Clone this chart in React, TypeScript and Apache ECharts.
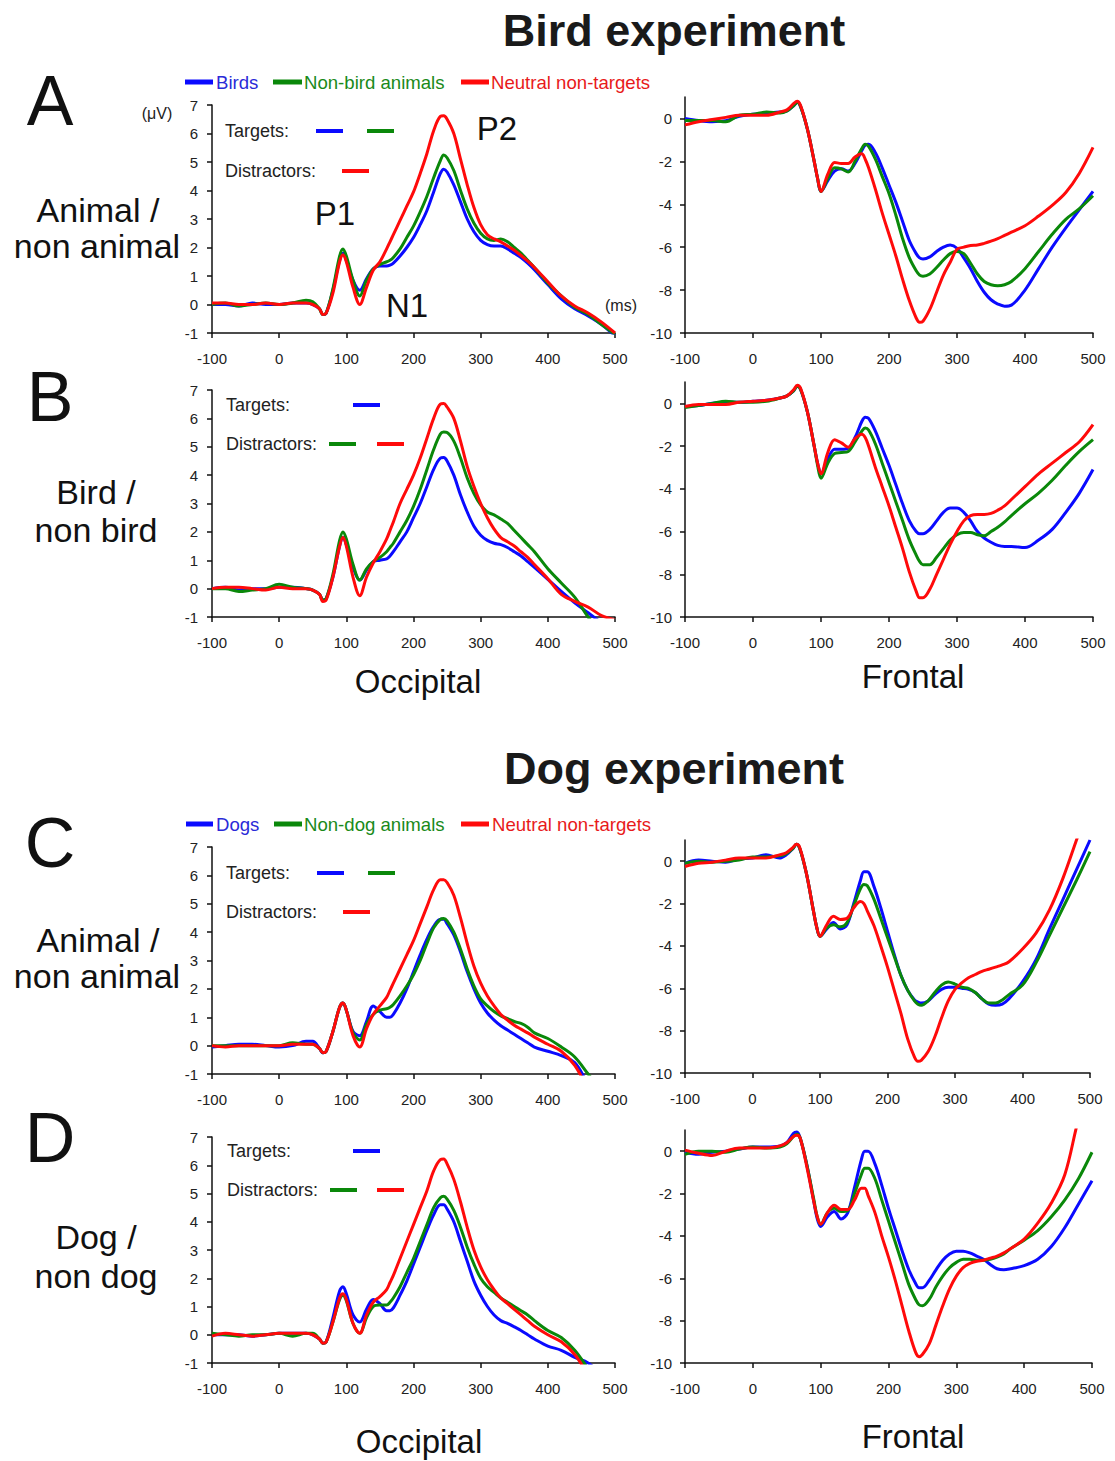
import React, { useEffect, useRef } from "react";
import * as echarts from "echarts";

// time points (ms)
const T = [
  -100, -80, -60, -40, -20, 0, 20, 40,
  50, 60, 65, 70, 80, 90, 95, 100,
  110, 120, 130, 140, 150, 160, 165, 170,
  180, 190, 200, 210, 220, 230, 240, 245,
  250, 260, 270, 280, 290, 300, 310, 320,
  330, 340, 350, 360, 370, 380, 400, 420,
  440, 460, 480, 500,
];

// ---- Bird experiment, Animal / non animal ----
const blueA_L = [
  0, 0, -0.05, 0.05, 0, 0, 0.05, 0.05,
  0, -0.15, -0.35, -0.3, 0.5, 1.55, 1.8, 1.55,
  0.85, 0.5, 0.9, 1.25, 1.35, 1.35, 1.38, 1.45,
  1.7, 2.0, 2.35, 2.8, 3.3, 3.95, 4.6, 4.75,
  4.65, 4.2, 3.6, 3.0, 2.55, 2.25, 2.1, 2.05,
  2.05, 1.95, 1.8, 1.65, 1.45, 1.22, 0.7, 0.2,
  -0.15, -0.4, -0.7, -1.1,
];
const greenA_L = [
  0, 0.05, -0.05, 0, 0.05, 0, 0.05, 0.15,
  0.1, -0.15, -0.35, -0.3, 0.55, 1.7, 1.95, 1.7,
  0.85, 0.3, 0.85, 1.25, 1.4, 1.5, 1.55, 1.65,
  1.95, 2.35, 2.75, 3.25, 3.8, 4.45, 5.05, 5.25,
  5.15, 4.7, 4.0, 3.35, 2.85, 2.5, 2.3, 2.25,
  2.3, 2.2, 2.0, 1.8, 1.55, 1.3, 0.75, 0.3,
  -0.1, -0.35, -0.7, -1.05,
];
const redA_L = [
  0.05, 0.05, 0, 0, 0.05, 0, 0.05, 0.05,
  0, -0.15, -0.35, -0.3, 0.4, 1.5, 1.75, 1.5,
  0.6, 0.0, 0.6, 1.2, 1.5, 1.95, 2.2, 2.45,
  2.95, 3.45, 3.95, 4.6, 5.3, 6.1, 6.6, 6.62,
  6.5, 6.0, 5.1, 4.2, 3.4, 2.8, 2.45, 2.3,
  2.2, 2.05, 1.9, 1.72, 1.52, 1.3, 0.8, 0.3,
  -0.05, -0.3, -0.62, -1.0,
];
const blueA_R = [
  0, -0.1, -0.15, -0.1, 0.1, 0.2, 0.25, 0.3,
  0.35, 0.6, 0.75, 0.55, -0.5, -2.0, -2.8, -3.4,
  -2.9, -2.45, -2.35, -2.45, -2.1, -1.5, -1.25, -1.2,
  -1.6, -2.3, -3.1, -3.9, -4.8, -5.7, -6.3, -6.5,
  -6.55, -6.45, -6.2, -6.0, -5.9, -6.05, -6.5, -7.0,
  -7.6, -8.1, -8.45, -8.65, -8.75, -8.7, -8.0, -7.0,
  -6.0, -5.1, -4.25, -3.4,
];
const greenA_R = [
  -0.1, -0.1, -0.1, -0.15, 0.15, 0.2, 0.3, 0.25,
  0.35, 0.6, 0.75, 0.55, -0.5, -2.0, -2.8, -3.4,
  -2.8, -2.3, -2.35, -2.5, -2.0, -1.4, -1.2, -1.3,
  -1.9, -2.7, -3.5, -4.5, -5.6, -6.5, -7.1, -7.3,
  -7.35, -7.25, -6.95, -6.6, -6.3, -6.2, -6.3, -6.75,
  -7.25, -7.6, -7.75, -7.8, -7.75, -7.6, -7.0, -6.2,
  -5.4, -4.7, -4.2, -3.6,
];
const redA_R = [
  -0.3, -0.15, -0.05, 0.05, 0.15, 0.15, 0.15, 0.3,
  0.4, 0.7, 0.8, 0.6, -0.5, -2.0, -2.8, -3.4,
  -2.6, -2.05, -2.1, -2.1, -1.8, -1.65, -1.9, -2.3,
  -3.3, -4.4, -5.4, -6.4, -7.5, -8.5, -9.3, -9.5,
  -9.45, -8.9, -8.1, -7.3, -6.7, -6.1, -6.0, -5.92,
  -5.9, -5.82, -5.72, -5.6, -5.45, -5.3, -5.0, -4.55,
  -4.05, -3.45, -2.55, -1.35,
];

// ---- Bird experiment, Bird / non bird ----
const blueB_L = [
  0, 0.05, -0.05, 0, 0, 0.05, 0.05, 0,
  -0.05, -0.2, -0.4, -0.35, 0.4, 1.5, 1.8, 1.55,
  0.75, 0.3, 0.65, 0.95, 1.0, 1.05, 1.15, 1.3,
  1.65, 2.0, 2.5, 3.0, 3.6, 4.2, 4.6, 4.62,
  4.5, 4.0, 3.3, 2.7, 2.2, 1.88, 1.7, 1.6,
  1.55, 1.45, 1.3, 1.15, 0.95, 0.75, 0.33, -0.1,
  -0.5, -0.85, -1.2, -1.5,
];
const greenB_L = [
  0, 0, -0.1, -0.05, 0, 0.15, 0.05, 0,
  -0.05, -0.2, -0.4, -0.35, 0.5, 1.7, 2.0, 1.75,
  0.85, 0.3, 0.7, 0.95, 1.1, 1.3, 1.45, 1.6,
  2.0, 2.4, 2.9, 3.5, 4.2, 4.9, 5.45, 5.52,
  5.5, 5.2, 4.6, 3.9, 3.35, 2.95, 2.7, 2.6,
  2.45, 2.3, 2.05, 1.8, 1.55, 1.3, 0.7, 0.2,
  -0.3, -1.0, -1.6, -2.2,
];
const redB_L = [
  0, 0.05, 0.05, 0, -0.05, 0.05, 0, 0,
  -0.05, -0.2, -0.45, -0.4, 0.4, 1.5, 1.8, 1.5,
  0.4, -0.25, 0.4, 0.9, 1.3, 1.75, 2.05, 2.35,
  3.0, 3.5, 4.0, 4.6, 5.3, 6.0, 6.5, 6.52,
  6.4, 6.0, 5.2, 4.3, 3.6, 3.0, 2.5, 2.1,
  1.8, 1.65, 1.5, 1.3, 1.1, 0.85, 0.35, -0.2,
  -0.45, -0.65, -0.95, -1.1,
];
const blueB_R = [
  -0.15, -0.1, 0, 0.05, 0.05, 0.1, 0.15, 0.25,
  0.35, 0.6, 0.8, 0.65, -0.4, -2.0, -2.8, -3.3,
  -2.6, -2.15, -2.15, -2.1, -1.6, -0.85, -0.65, -0.7,
  -1.3, -2.1, -2.9, -3.8, -4.7, -5.5, -6.0, -6.1,
  -6.1, -5.9, -5.5, -5.1, -4.9, -4.9, -5.1, -5.5,
  -6.0, -6.3, -6.5, -6.65, -6.7, -6.7, -6.75, -6.4,
  -5.9, -5.1, -4.2, -3.1,
];
const greenB_R = [
  -0.2, -0.1, 0, 0.1, 0.05, 0.05, 0.1, 0.25,
  0.35, 0.6, 0.8, 0.65, -0.4, -2.0, -2.9, -3.5,
  -2.8, -2.35, -2.3, -2.25, -1.8, -1.3, -1.15, -1.25,
  -1.9, -2.8, -3.7, -4.6, -5.5, -6.4, -7.1, -7.4,
  -7.55, -7.55, -7.2, -6.8, -6.4, -6.15, -6.05, -6.05,
  -6.15, -6.2, -6.0, -5.8, -5.55, -5.25, -4.7, -4.2,
  -3.6, -2.9, -2.25, -1.7,
];
const redB_R = [
  -0.15, -0.05, -0.05, -0.05, 0.05, 0.1, 0.15, 0.25,
  0.35, 0.65, 0.85, 0.7, -0.4, -2.0, -2.8, -3.3,
  -2.3, -1.7, -1.85, -2.05, -1.65, -1.45, -1.6, -2.0,
  -3.0, -3.9, -4.8, -5.8, -6.8, -7.9, -8.8, -9.1,
  -9.1, -8.7, -8.0, -7.3, -6.6, -6.0, -5.5, -5.25,
  -5.2, -5.2, -5.15, -5.0, -4.8, -4.5, -3.9, -3.3,
  -2.8, -2.3, -1.8, -1.0,
];

// ---- Dog experiment, Animal / non animal ----
const blueC_L = [
  -0.05, 0, 0.05, 0.05, 0, -0.05, 0, 0.15,
  0.15, -0.1, -0.25, -0.2, 0.5, 1.35, 1.5, 1.25,
  0.5, 0.35, 0.85, 1.4, 1.2, 1.0, 1.0, 1.1,
  1.5, 2.0, 2.6, 3.2, 3.75, 4.2, 4.45, 4.45,
  4.3, 3.9, 3.3, 2.6, 2.0, 1.5, 1.15, 0.9,
  0.7, 0.55, 0.4, 0.25, 0.1, -0.05, -0.2, -0.35,
  -0.6, -1.35, -2.0, -2.6,
];
const greenC_L = [
  0, 0, 0, 0, 0, 0, 0.1, 0.05,
  0.05, -0.1, -0.25, -0.2, 0.5, 1.35, 1.5, 1.25,
  0.45, 0.2, 0.75, 1.1, 1.25, 1.3, 1.35, 1.45,
  1.75, 2.1, 2.5, 3.0, 3.6, 4.15, 4.45, 4.48,
  4.4, 4.0, 3.4, 2.7, 2.1, 1.65, 1.4, 1.2,
  1.05, 0.95, 0.85, 0.78, 0.65, 0.45, 0.25, -0.05,
  -0.4, -1.0, -1.6, -2.2,
];
const redC_L = [
  0, -0.05, 0, 0, 0, 0, 0.05, 0.05,
  0.05, -0.1, -0.25, -0.2, 0.5, 1.35, 1.5, 1.25,
  0.35, -0.05, 0.6, 1.1, 1.4, 1.7, 1.95, 2.2,
  2.7, 3.2, 3.7, 4.3, 4.9, 5.5, 5.85, 5.85,
  5.75, 5.3, 4.5, 3.6, 2.8, 2.2, 1.75, 1.4,
  1.1, 0.9, 0.72, 0.58, 0.45, 0.3, 0.05, -0.2,
  -0.7, -1.5, -2.1, -2.7,
];
const blueC_R = [
  -0.1, 0.05, 0, -0.05, 0.1, 0.15, 0.3, 0.15,
  0.3, 0.6, 0.8, 0.6, -0.6, -2.3, -3.1, -3.55,
  -3.2, -2.9, -3.2, -3.0, -2.0, -0.9, -0.5, -0.5,
  -1.2, -2.2, -3.3, -4.4, -5.4, -6.1, -6.55, -6.65,
  -6.7, -6.6, -6.3, -6.05, -5.95, -5.95, -6.0, -6.05,
  -6.2, -6.5, -6.75, -6.8, -6.75, -6.5, -5.7, -4.65,
  -3.2, -1.8, -0.4, 1.0,
];
const greenC_R = [
  -0.1, 0, -0.05, 0, 0.05, 0.2, 0.2, 0.25,
  0.35, 0.6, 0.8, 0.6, -0.6, -2.3, -3.1, -3.55,
  -3.15, -3.0, -3.1, -2.9, -2.1, -1.3, -1.1, -1.15,
  -1.8, -2.7, -3.6, -4.5, -5.4, -6.1, -6.6, -6.75,
  -6.8, -6.6, -6.2, -5.85, -5.7, -5.8, -5.95, -6.0,
  -6.2, -6.5, -6.7, -6.7, -6.55, -6.3, -5.85, -4.8,
  -3.5, -2.2, -0.9, 0.45,
];
const redC_R = [
  -0.25, -0.1, -0.05, 0.05, 0.15, 0.15, 0.15, 0.3,
  0.4, 0.65, 0.8, 0.65, -0.6, -2.3, -3.1, -3.55,
  -3.0, -2.6, -2.75, -2.7, -2.2, -1.9, -2.0, -2.35,
  -3.05, -4.0, -5.0, -6.1, -7.2, -8.4, -9.25, -9.45,
  -9.4, -9.0, -8.3, -7.4, -6.6, -6.05, -5.75, -5.5,
  -5.35, -5.2, -5.1, -5.0, -4.9, -4.75, -4.15, -3.4,
  -2.3, -0.8, 1.0, 2.8,
];

// ---- Dog experiment, Dog / non dog ----
const blueD_L = [
  0, 0, 0, -0.05, 0, 0.05, 0.05, 0.05,
  0, -0.15, -0.3, -0.25, 0.6, 1.55, 1.7, 1.45,
  0.7, 0.45, 0.9, 1.25, 1.1, 0.85, 0.85, 0.95,
  1.4, 1.9, 2.5, 3.1, 3.7, 4.25, 4.6, 4.6,
  4.45, 4.0, 3.3, 2.6, 1.9, 1.4, 1.0, 0.7,
  0.5, 0.4, 0.28, 0.15, 0, -0.15, -0.4, -0.55,
  -0.8, -1.0, -1.4, -1.8,
];
const greenD_L = [
  0.05, 0, -0.05, 0, 0, 0.05, -0.05, 0.05,
  0.05, -0.15, -0.3, -0.25, 0.45, 1.25, 1.4, 1.2,
  0.4, 0.05, 0.6, 1.0, 1.05, 1.05, 1.15, 1.3,
  1.7, 2.2, 2.7, 3.3, 3.9, 4.5, 4.85, 4.9,
  4.8, 4.4, 3.8, 3.1, 2.5, 2.0, 1.7, 1.5,
  1.3, 1.15, 1.0, 0.85, 0.7, 0.5, 0.15, -0.1,
  -0.55, -1.2, -1.8, -2.4,
];
const redD_L = [
  -0.05, 0.05, 0, -0.05, 0, 0.05, 0.05, 0.05,
  0, -0.15, -0.3, -0.25, 0.45, 1.3, 1.45, 1.25,
  0.4, 0.05, 0.7, 1.15, 1.35, 1.6, 1.85, 2.1,
  2.7, 3.3, 3.9, 4.5, 5.1, 5.8, 6.2, 6.22,
  6.05, 5.5, 4.7, 3.8, 3.0, 2.4, 1.95, 1.6,
  1.3, 1.1, 0.9, 0.7, 0.5, 0.3, 0.0, -0.25,
  -0.7, -1.4, -2.0, -2.6,
];
const blueD_R = [
  -0.05, -0.15, -0.05, 0, 0.1, 0.2, 0.2, 0.25,
  0.4, 0.85, 0.9, 0.6, -0.7, -2.4, -3.2, -3.55,
  -3.1, -2.85, -3.2, -2.9, -1.7, -0.4, 0.0, 0.0,
  -0.6, -1.6, -2.7, -3.7, -4.7, -5.6, -6.25, -6.45,
  -6.45, -6.1, -5.6, -5.15, -4.85, -4.72, -4.72, -4.8,
  -4.95, -5.1, -5.35, -5.55, -5.6, -5.55, -5.4, -5.1,
  -4.5, -3.6, -2.5, -1.4,
];
const greenD_R = [
  -0.15, 0, 0, -0.05, 0.1, 0.2, 0.15, 0.2,
  0.35, 0.7, 0.8, 0.6, -0.7, -2.3, -3.1, -3.45,
  -2.9, -2.7, -2.85, -2.8, -2.0, -1.1, -0.8, -0.8,
  -1.3, -2.3, -3.3, -4.3, -5.3, -6.3, -7.0, -7.25,
  -7.3, -7.0, -6.4, -5.9, -5.5, -5.25, -5.1, -5.1,
  -5.15, -5.15, -5.1, -5.0, -4.85, -4.6, -4.2, -3.75,
  -3.1, -2.3, -1.3, -0.05,
];
const redD_R = [
  0.05, -0.1, -0.2, 0, 0.15, 0.15, 0.15, 0.25,
  0.4, 0.7, 0.75, 0.6, -0.8, -2.4, -3.1, -3.45,
  -2.9, -2.55, -2.75, -2.75, -2.3, -1.75, -1.75, -2.1,
  -2.9, -4.0, -5.0, -6.1, -7.3, -8.5, -9.5, -9.7,
  -9.6, -9.1, -8.2, -7.3, -6.5, -5.9, -5.5, -5.3,
  -5.2, -5.15, -5.05, -4.95, -4.8, -4.6, -4.15, -3.4,
  -2.45, -1.1, 1.5, 3.5,
];

const X_TICKS = [-100, 0, 100, 200, 300, 400, 500];
const OCC_TICKS = [-1, 0, 1, 2, 3, 4, 5, 6, 7];
const FRONT_TICKS = [-10, -8, -6, -4, -2, 0];

const BLUE = "#0a0aff";
const GREEN = "#0a880a";
const RED = "#ff0a0a";
const FONT = "'Liberation Sans', Arial, Helvetica, sans-serif";

// panels: [left, top, width, height, kind]
const PANELS: [number, number, number, number, string][] = [
  [212, 105, 403, 228, "occ"],
  [685, 97, 408, 236, "front"],
  [212, 390, 403, 227, "occ"],
  [685, 382, 408, 235, "front"],
  [212, 847, 403, 227, "occ"],
  [685, 840, 405, 233, "front"],
  [212, 1137, 403, 226, "occ"],
  [685, 1130, 407, 233, "front"],
];

const SERIES_SETS = [
  [blueA_L, greenA_L, redA_L],
  [blueA_R, greenA_R, redA_R],
  [blueB_L, greenB_L, redB_L],
  [blueB_R, greenB_R, redB_R],
  [blueC_L, greenC_L, redC_L],
  [blueC_R, greenC_R, redC_R],
  [blueD_L, greenD_L, redD_L],
  [blueD_R, greenD_R, redD_R],
];

const zip = (ys: number[]) => T.map((t, i) => [t, ys[i]]);

function txt(x: number, y: number, text: string, size: number, opts: any = {}) {
  const align = opts.align || "center";
  return {
    type: "text",
    x,
    y,
    silent: true,
    style: {
      text,
      fill: opts.fill || "#111",
      font: `${opts.bold ? "bold " : ""}${size}px ${FONT}`,
      textAlign: align,
      textVerticalAlign: "middle",
      align,
      verticalAlign: "middle",
    },
  };
}

function dash(x: number, y: number, color: string, w = 27, h = 4) {
  return {
    type: "rect",
    silent: true,
    shape: { x, y: y - h / 2, width: w, height: h },
    style: { fill: color },
  };
}

export default function App() {
  const ref = useRef<HTMLDivElement>(null);
  useEffect(() => {
    document.body.style.margin = "0";
    const chart = echarts.init(ref.current!, null, { renderer: "svg" });

    const grid = PANELS.map(([l, t, w, h]) => ({ left: l, top: t, width: w, height: h }));
    const axisLineStyle = { color: "#111", width: 1.5 };
    const labelStyle = { color: "#222", fontSize: 15, fontFamily: FONT };

    const xAxis = PANELS.map((_, i) => ({
      type: "value",
      gridIndex: i,
      min: -100,
      max: 500,
      interval: 100,
      axisLine: { show: true, onZero: false, lineStyle: axisLineStyle },
      axisTick: { show: true, length: 5, lineStyle: axisLineStyle, customValues: X_TICKS },
      axisLabel: { ...labelStyle, margin: 18, customValues: X_TICKS },
      splitLine: { show: false },
    }));

    const yAxis = PANELS.map((p, i) => {
      const occ = p[4] === "occ";
      const ticks = occ ? OCC_TICKS : FRONT_TICKS;
      return {
        type: "value",
        gridIndex: i,
        min: occ ? -1 : -10,
        max: occ ? 7 : 1,
        interval: occ ? 1 : 2,
        axisLine: { show: true, onZero: false, lineStyle: axisLineStyle },
        axisTick: { show: true, length: 5, lineStyle: axisLineStyle, customValues: ticks },
        axisLabel: {
          ...labelStyle,
          margin: occ ? 14 : 13,
          customValues: ticks,
          formatter: (v: number) => (!occ && v > 0 ? "" : String(v)),
        },
        splitLine: { show: false },
      };
    });

    const colors = [BLUE, GREEN, RED];
    const series: any[] = [];
    SERIES_SETS.forEach((set, i) => {
      set.forEach((ys, k) => {
        series.push({
          type: "line",
          xAxisIndex: i,
          yAxisIndex: i,
          data: zip(ys),
          smooth: 0.35,
          showSymbol: false,
          symbol: "none",
          clip: true,
          lineStyle: { color: colors[k], width: 3 },
          z: 2 + k,
        });
      });
    });

    const graphic: any[] = [
      // titles
      txt(674, 30, "Bird experiment", 45, { bold: true, fill: "#1a1a1a" }),
      txt(674, 768, "Dog experiment", 45, { bold: true, fill: "#1a1a1a" }),
      // panel letters
      txt(50, 101, "A", 70),
      txt(50, 397, "B", 70),
      txt(50, 843, "C", 70),
      txt(50, 1138, "D", 70),
      // row labels
      txt(98, 210, "Animal /", 34),
      txt(97, 246, "non animal", 34),
      txt(96, 492, "Bird /", 34),
      txt(96, 530, "non bird", 34),
      txt(98, 940, "Animal /", 34),
      txt(97, 976, "non animal", 34),
      txt(96, 1237, "Dog /", 34),
      txt(96, 1276, "non dog", 34),
      // region labels
      txt(418, 681, "Occipital", 33),
      txt(913, 676, "Frontal", 33),
      txt(419, 1441, "Occipital", 33),
      txt(913, 1436, "Frontal", 33),
      // units and component labels
      txt(157, 113, "(μV)", 16, { fill: "#222" }),
      txt(621, 305, "(ms)", 16, { fill: "#222" }),
      txt(335, 213, "P1", 33),
      txt(497, 128, "P2", 33),
      txt(407, 305, "N1", 33),
      // top legend - bird
      dash(185, 82, BLUE, 28, 5),
      txt(216, 82, "Birds", 18.6, { align: "left", fill: "#2a2ad8" }),
      dash(273, 82, GREEN, 29, 5),
      txt(304, 82, "Non-bird animals", 18.6, { align: "left", fill: "#1a8a1a" }),
      dash(461, 82, RED, 28, 5),
      txt(491, 82, "Neutral non-targets", 18.6, { align: "left", fill: "#e81a1a" }),
      // top legend - dog
      dash(186, 824, BLUE, 27, 5),
      txt(216, 824, "Dogs", 18.6, { align: "left", fill: "#2a2ad8" }),
      dash(274, 824, GREEN, 28, 5),
      txt(304, 824, "Non-dog animals", 18.6, { align: "left", fill: "#1a8a1a" }),
      dash(461, 824, RED, 28, 5),
      txt(492, 824, "Neutral non-targets", 18.6, { align: "left", fill: "#e81a1a" }),
      // inner legends A
      txt(225, 131, "Targets:", 18, { align: "left", fill: "#222" }),
      dash(316, 131, BLUE),
      dash(367, 131, GREEN),
      txt(225, 171, "Distractors:", 18, { align: "left", fill: "#222" }),
      dash(342, 171, RED),
      // B
      txt(226, 405, "Targets:", 18, { align: "left", fill: "#222" }),
      dash(353, 405, BLUE),
      txt(226, 444, "Distractors:", 18, { align: "left", fill: "#222" }),
      dash(329, 444, GREEN),
      dash(377, 444, RED),
      // C
      txt(226, 873, "Targets:", 18, { align: "left", fill: "#222" }),
      dash(317, 873, BLUE),
      dash(368, 873, GREEN),
      txt(226, 912, "Distractors:", 18, { align: "left", fill: "#222" }),
      dash(343, 912, RED),
      // D
      txt(227, 1151, "Targets:", 18, { align: "left", fill: "#222" }),
      dash(353, 1151, BLUE),
      txt(227, 1190, "Distractors:", 18, { align: "left", fill: "#222" }),
      dash(330, 1190, GREEN),
      dash(377, 1190, RED),
    ];

    chart.setOption({
      animation: false,
      backgroundColor: "#ffffff",
      grid,
      xAxis,
      yAxis,
      series,
      graphic,
    });
    return () => chart.dispose();
  }, []);

  return <div ref={ref} style={{ width: 1115, height: 1461, background: "#fff" }} />;
}
